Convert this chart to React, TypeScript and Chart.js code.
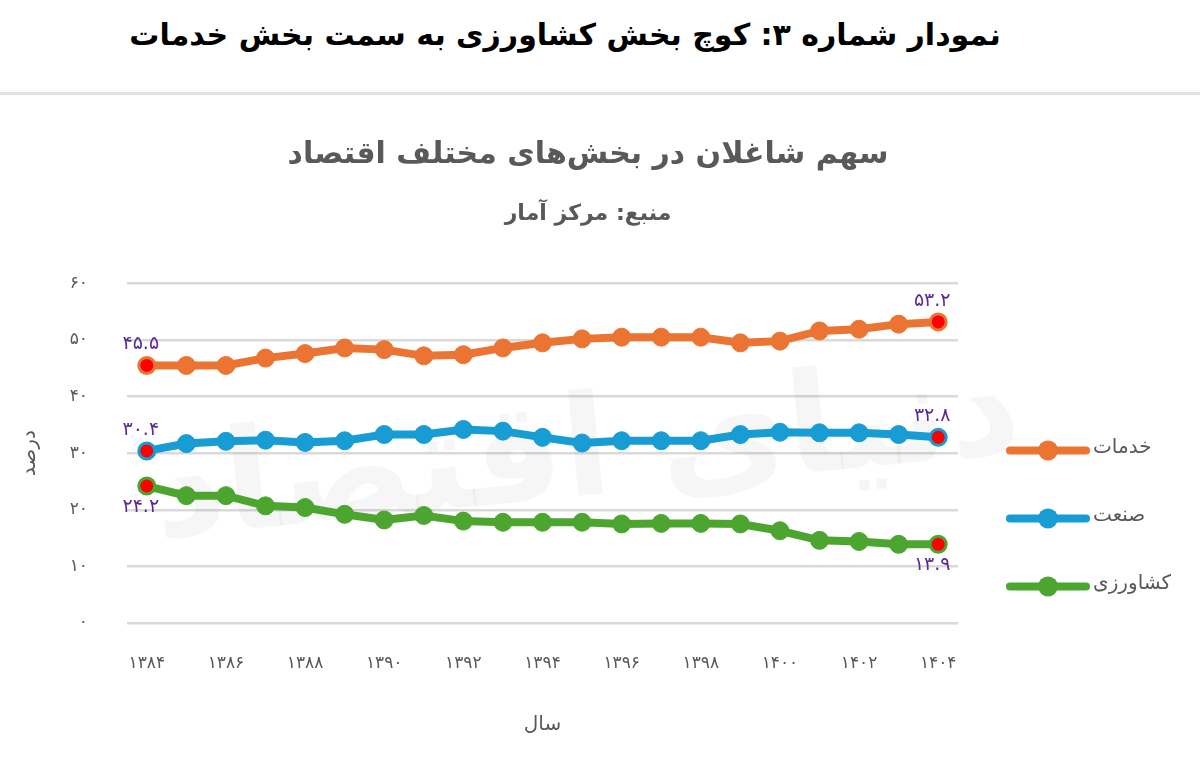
import React, { useEffect, useRef } from 'react';
import { Chart, registerables } from 'chart.js';

Chart.register(...registerables);

const FONT = '"DejaVu Sans", sans-serif';
const GRAY = '#595959';

const headerTitle = 'نمودار شماره ۳: کوچ بخش کشاورزی به سمت بخش خدمات';
const chartTitle = 'سهم شاغلان در بخش‌های مختلف اقتصاد';
const sourceText = 'منبع: مرکز آمار';
const xTitle = 'سال';
const yTitle = 'درصد';
const watermark = 'دنیای اقتصاد';

const years = [
  '۱۳۸۴', '۱۳۸۵', '۱۳۸۶', '۱۳۸۷', '۱۳۸۸', '۱۳۸۹', '۱۳۹۰', '۱۳۹۱', '۱۳۹۲', '۱۳۹۳', '۱۳۹۴',
  '۱۳۹۵', '۱۳۹۶', '۱۳۹۷', '۱۳۹۸', '۱۳۹۹', '۱۴۰۰', '۱۴۰۱', '۱۴۰۲', '۱۴۰۳', '۱۴۰۴',
];

const seriesNames = ['خدمات', 'صنعت', 'کشاورزی'];
const seriesColors = ['#EC7432', '#179CD4', '#4BA52F'];
const endPointColor = '#FF0000';
const valueLabelColor = '#5A2A92';

const services = [45.5, 45.5, 45.5, 46.8, 47.6, 48.6, 48.3, 47.2, 47.4, 48.6, 49.5, 50.2, 50.5, 50.5, 50.5, 49.5, 49.8, 51.6, 51.9, 52.8, 53.2];
const industry = [30.4, 31.7, 32.1, 32.3, 31.9, 32.2, 33.3, 33.3, 34.2, 33.9, 32.8, 31.8, 32.2, 32.2, 32.2, 33.3, 33.7, 33.6, 33.6, 33.3, 32.8];
const agriculture = [24.2, 22.5, 22.5, 20.7, 20.4, 19.2, 18.2, 19.0, 18.0, 17.8, 17.8, 17.8, 17.5, 17.6, 17.6, 17.5, 16.3, 14.6, 14.4, 13.9, 13.9];

const yMin = 0;
const yMax = 60;
const yStep = 10;

const toFa = (s: string) => s.replace(/[0-9]/g, (d) => '۰۱۲۳۴۵۶۷۸۹'[Number(d)]);

const valueLabelPlugin = {
  id: 'valueLabels',
  afterDatasetsDraw(chart: any) {
    const { ctx } = chart;
    ctx.save();
    ctx.font = `19px ${FONT}`;
    ctx.fillStyle = valueLabelColor;
    ctx.textAlign = 'center';
    ctx.textBaseline = 'middle';
    chart.data.datasets.forEach((ds: any, i: number) => {
      const meta = chart.getDatasetMeta(i);
      const last = ds.data.length - 1;
      [0, last].forEach((idx) => {
        const pt = meta.data[idx];
        const txt = toFa(Number(ds.data[idx]).toFixed(1));
        const dy = i === 2 ? 21 : -21;
        ctx.fillText(txt, pt.x - 6, pt.y + dy);
      });
    });
    ctx.restore();
  },
};

const watermarkPlugin = {
  id: 'watermark',
  beforeDatasetsDraw(chart: any) {
    const { ctx, chartArea } = chart;
    ctx.save();
    ctx.translate(chartArea.left + 460, chartArea.top + 175);
    ctx.rotate(-0.1);
    ctx.font = `bold 140px ${FONT}`;
    ctx.fillStyle = 'rgba(0,0,0,0.035)';
    ctx.textAlign = 'center';
    ctx.textBaseline = 'middle';
    ctx.direction = 'rtl';
    ctx.fillText(watermark, 0, 0);
    ctx.restore();
  },
};

const customLegendPlugin = {
  id: 'customLegend',
  afterDraw(chart: any) {
    const { ctx, chartArea } = chart;
    const x0 = chartArea.right + 52;
    const lineLen = 76;
    const startY = chartArea.top + 167;
    const step = 68;
    ctx.save();
    chart.data.datasets.forEach((ds: any, i: number) => {
      const y = startY + i * step;
      ctx.strokeStyle = ds.borderColor;
      ctx.lineWidth = 8;
      ctx.lineCap = 'round';
      ctx.beginPath();
      ctx.moveTo(x0, y);
      ctx.lineTo(x0 + lineLen, y);
      ctx.stroke();
      ctx.fillStyle = ds.borderColor;
      ctx.beginPath();
      ctx.arc(x0 + lineLen / 2, y, 10, 0, Math.PI * 2);
      ctx.fill();
      ctx.font = `20px ${FONT}`;
      ctx.fillStyle = GRAY;
      ctx.textAlign = 'left';
      ctx.textBaseline = 'middle';
      ctx.fillText(ds.label, x0 + lineLen + 7, y - 3);
    });
    ctx.restore();
  },
};

export default function App() {
  const canvasRef = useRef<HTMLCanvasElement | null>(null);

  useEffect(() => {
    document.body.style.margin = '0';
    document.body.style.background = '#ffffff';
    if (!canvasRef.current) return;
    const seriesData = [services, industry, agriculture];
    const datasets = seriesData.map((data, i) => {
      const color = seriesColors[i];
      const last = data.length - 1;
      const isEnd = (idx: number) => idx === 0 || idx === last;
      return {
        label: seriesNames[i],
        data,
        borderColor: color,
        backgroundColor: color,
        borderWidth: 8,
        tension: 0,
        pointRadius: data.map((_, idx) => (isEnd(idx) ? 8 : 9)),
        pointBorderWidth: data.map((_, idx) => (isEnd(idx) ? 3 : 1)),
        pointBackgroundColor: data.map((_, idx) => (isEnd(idx) ? endPointColor : color)),
        pointBorderColor: color,
      };
    });

    const chart = new Chart(canvasRef.current, {
      type: 'line',
      data: { labels: years, datasets },
      plugins: [watermarkPlugin, valueLabelPlugin, customLegendPlugin],
      options: {
        animation: false,
        responsive: false,
        layout: { padding: { left: 0, right: 24, top: 0, bottom: 0 } },
        plugins: {
          legend: { display: false },
          tooltip: { enabled: false },
          title: {
            display: true,
            text: chartTitle,
            color: GRAY,
            font: { family: FONT, size: 30, weight: 'bold' },
            padding: { top: 42, bottom: 18 },
          },
          subtitle: {
            display: true,
            text: sourceText,
            color: GRAY,
            font: { family: FONT, size: 22, weight: 'bold' },
            padding: { top: 10, bottom: 56 },
          },
        },
        scales: {
          x: {
            type: 'category',
            offset: true,
            grid: { display: false, drawTicks: false },
            border: { display: false },
            ticks: {
              autoSkip: false,
              maxRotation: 0,
              padding: 30,
              color: GRAY,
              font: { family: FONT, size: 17 },
              callback: (_v: any, i: number) => (i % 2 === 0 ? years[i] : ''),
            },
            title: {
              display: true,
              text: xTitle,
              color: GRAY,
              font: { family: FONT, size: 20 },
              padding: { top: 10, bottom: 20 },
            },
            afterFit: (s: any) => { s.height = 134; },
          },
          y: {
            type: 'linear',
            min: yMin,
            max: yMax,
            grid: { color: '#d9d9d9', lineWidth: 2.5, drawTicks: false },
            border: { display: false },
            ticks: {
              stepSize: yStep,
              padding: 39,
              color: GRAY,
              font: { family: FONT, size: 17 },
              callback: (v: any) => toFa(String(v)),
            },
            title: {
              display: true,
              text: yTitle,
              color: GRAY,
              font: { family: FONT, size: 20 },
              padding: { top: 18, bottom: 0 },
            },
            afterFit: (s: any) => { s.width = 127; },
          },
          legendSpace: {
            type: 'linear',
            position: 'right',
            display: true,
            grid: { display: false, drawTicks: false },
            border: { display: false },
            ticks: { display: false },
            afterFit: (s: any) => { s.width = 218; },
          },
        },
      } as any,
    });
    return () => chart.destroy();
  }, []);

  return (
    <div style={{ width: 1200, height: 757, position: 'relative', background: '#fff', overflow: 'hidden' }}>
      <div style={{ height: 92, borderBottom: '3px solid #e2e2e2', position: 'relative' }}>
        <div
          dir="rtl"
          style={{
            position: 'absolute',
            top: 12,
            left: 0,
            width: 1130,
            textAlign: 'center',
            fontFamily: FONT,
            fontWeight: 'bold',
            fontSize: 30,
            lineHeight: '46px',
            color: '#000',
          }}
        >
          {headerTitle}
        </div>
      </div>
      <canvas ref={canvasRef} width={1200} height={662} style={{ display: 'block' }} />
    </div>
  );
}
